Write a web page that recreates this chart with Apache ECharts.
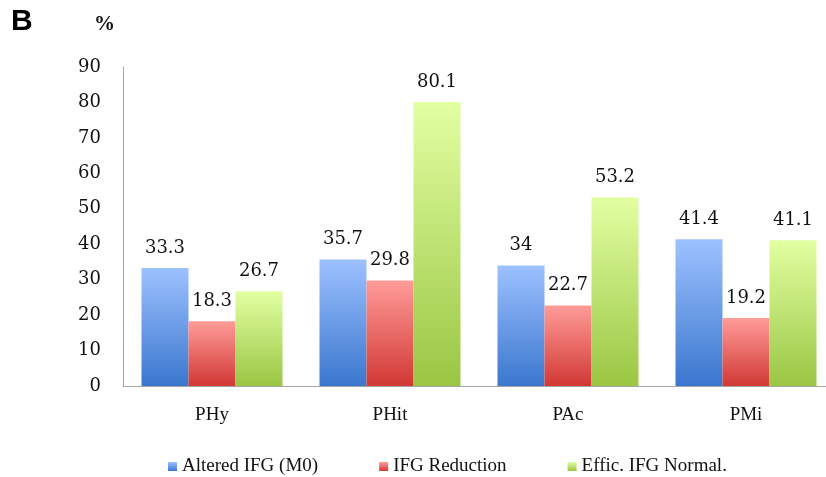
<!DOCTYPE html>
<html>
<head>
<meta charset="utf-8">
<script src="https://cdn.jsdelivr.net/npm/echarts@6/dist/echarts.min.js"></script>
<style>
html,body{margin:0;padding:0;background:#fff;overflow:hidden;}
#wrap{width:826px;height:477px;overflow:hidden;}
#main{width:843px;height:477px;}
</style>
</head>
<body>
<div id="wrap"><div id="main"></div></div>
<script>
const categories = ['PHy', 'PHit', 'PAc', 'PMi'];
const seriesNames = ['Altered IFG (M0)', 'IFG Reduction', 'Effic. IFG Normal.'];
const alteredIFG = [33.3, 35.7, 34, 41.4];
const ifgReduction = [18.3, 29.8, 22.7, 19.2];
const efficIFGNormal = [26.7, 80.1, 53.2, 41.1];
const yTicks = [0, 10, 20, 30, 40, 50, 60, 70, 80, 90];

const serif = 'Liberation Serif';
const numFont = 'DejaVu Serif';
function grad(top, bottom) {
  return new echarts.graphic.LinearGradient(0, 0, 0, 1, [
    { offset: 0, color: top }, { offset: 1, color: bottom }
  ]);
}
const colors = [
  grad('#9DC1FF', '#3A77CE'),
  grad('#FF9C99', '#D13834'),
  grad('#E2FFA2', '#9AC643')
];
const dataSets = [alteredIFG, ifgReduction, efficIFGNormal];

const chart = echarts.init(document.getElementById('main'));
chart.setOption({
  animation: false,
  backgroundColor: '#fff',
  graphic: [
    { type: 'text', left: 11, top: 7, style: { text: 'B', font: 'bold 30px Liberation Sans', fill: '#000' } },
    { type: 'text', left: 94, top: 14, style: { text: '%', font: 'bold 21px Liberation Serif', fill: '#111' } }
  ],
  grid: { left: 123, top: 67, width: 712, height: 319, containLabel: false },
  legend: {
    left: 163, top: 452,
    icon: 'rect', itemWidth: 9, itemHeight: 9, itemGap: 61,
    textStyle: { fontFamily: serif, fontSize: 19, color: '#111' },
    data: seriesNames
  },
  xAxis: {
    type: 'category', data: categories,
    axisLine: { lineStyle: { color: '#A6A6A6', width: 1 } },
    axisTick: { show: false },
    axisLabel: { fontFamily: serif, fontSize: 19, color: '#111', margin: 20 }
  },
  yAxis: {
    type: 'value', min: 0, max: 90, interval: 10,
    axisLine: { show: true, lineStyle: { color: '#A6A6A6', width: 1 } },
    axisTick: { show: false },
    splitLine: { show: false },
    axisLabel: { fontFamily: numFont, fontSize: 18, color: '#111', margin: 22,
      formatter: v => yTicks.includes(v) ? String(v) : '' }
  },
  series: dataSets.map((d, i) => ({
    name: seriesNames[i], type: 'bar', data: d,
    barWidth: 47, barGap: '0%',
    itemStyle: { color: colors[i] },
    label: { show: true, position: 'top', distance: 11,
      fontFamily: numFont, fontSize: 18, color: '#111' }
  }))
});
</script>
</body>
</html>
